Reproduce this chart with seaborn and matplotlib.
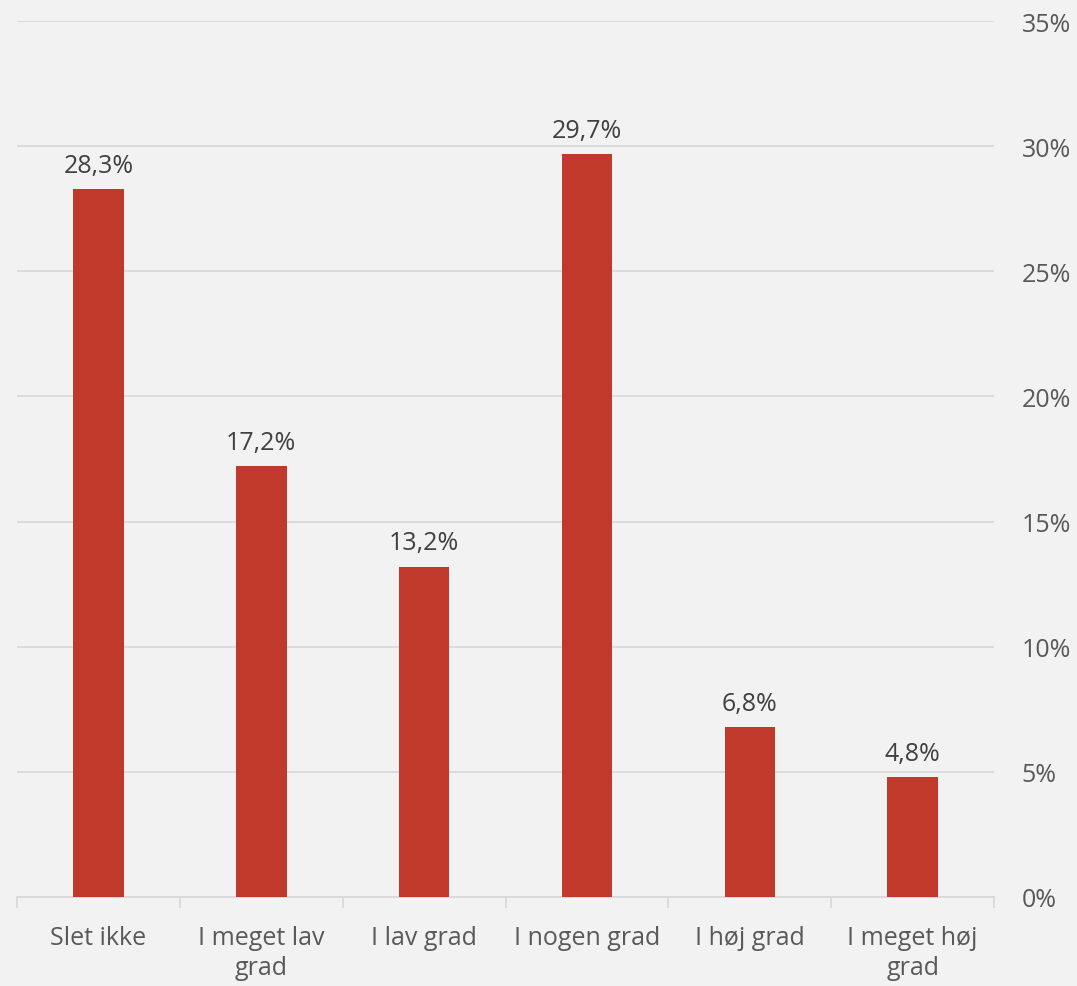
import matplotlib
matplotlib.use("Agg")
import matplotlib.pyplot as plt
import seaborn as sns
import pandas as pd
from matplotlib.ticker import FixedLocator

# Data
categories = ["Slet ikke", "I meget lav\ngrad", "I lav grad", "I nogen grad", "I høj grad", "I meget høj\ngrad"]
values = [28.3, 17.2, 13.2, 29.7, 6.8, 4.8]
y_ticks = [0, 5, 10, 15, 20, 25, 30, 35]

bg = "#F2F2F2"
bar_color = "#C0392B"
grid_color = "#D9D9D9"
text_color = "#595959"

sns.set_theme(style="white")
plt.rcParams["font.family"] = ["Open Sans", "DejaVu Sans"]

df = pd.DataFrame({"cat": categories, "val": values})

fig = plt.figure(figsize=(10.77, 9.87), dpi=100, facecolor=bg)
ax = fig.add_axes([0.0158, 0.0902, 0.9072, 0.8875])
ax.set_facecolor(bg)

sns.barplot(data=df, x="cat", y="val", color=bar_color, width=0.31, saturation=1,
            linewidth=0, ax=ax, zorder=3)

# value labels
for i, v in enumerate(values):
    ax.annotate(f"{v:.1f}%".replace(".", ","), (i, v), xytext=(0, 8), textcoords="offset points",
                ha="center", va="bottom", fontsize=18, color="#404040")

ax.set_ylim(0, 35)
ax.set_xlim(-0.5, len(categories) - 0.5)
ax.yaxis.tick_right()
ax.set_yticks(y_ticks)
ax.set_yticklabels([f"{t}%" for t in y_ticks], fontsize=18, color=text_color)
ax.tick_params(axis="y", length=0, pad=20)
ax.grid(axis="y", color=grid_color, linewidth=1.3, zorder=0)

ax.set_xticks(range(len(categories)))
ax.set_xticklabels(categories, fontsize=18, color=text_color, linespacing=1.3)
ax.tick_params(axis="x", length=0, pad=20)
# tick marks between categories
ax.xaxis.set_minor_locator(FixedLocator([i - 0.5 for i in range(len(categories) + 1)]))
ax.tick_params(axis="x", which="minor", bottom=True, length=8, width=1.3, color=grid_color, direction="out")

for s in ["top", "left", "right"]:
    ax.spines[s].set_visible(False)
ax.spines["bottom"].set_color(grid_color)
ax.spines["bottom"].set_linewidth(1.3)
ax.set_xlabel("")
ax.set_ylabel("")

fig.savefig("out.png", dpi=100, facecolor=bg)
